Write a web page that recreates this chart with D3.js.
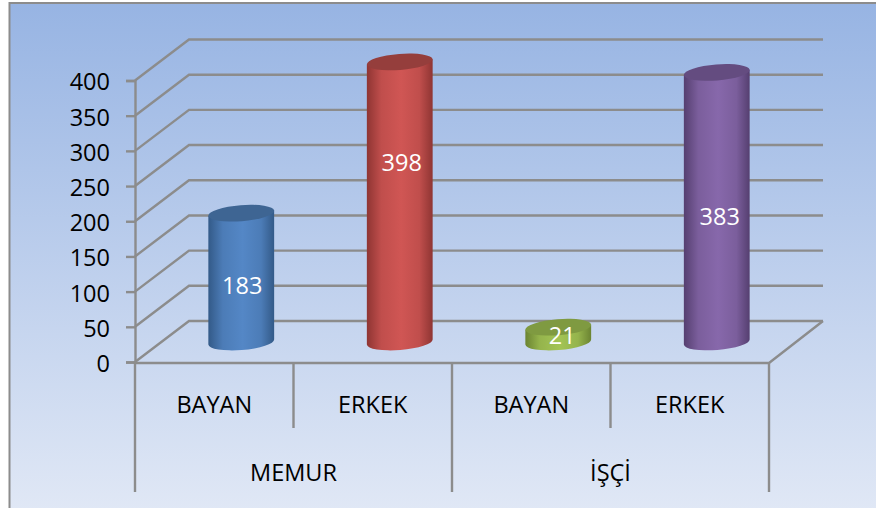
<!DOCTYPE html>
<html lang="en">
<head>
    <meta charset="UTF-8">
    <title>MEMUR / İŞÇİ</title>
    <script src="https://cdnjs.cloudflare.com/ajax/libs/d3/7.8.5/d3.min.js"></script>
    <style>
        html, body { margin: 0; padding: 0; background: #fff; overflow: hidden; }
        svg { display: block; }
        text { font-family: "Open Sans", sans-serif; }
    </style>
</head>
<body>
    <svg width="876" height="508"></svg>
    <script>
        "use strict";

        const categories = ["BAYAN", "ERKEK", "BAYAN", "ERKEK"];
        const values = [183, 398, 21, 383];
        const groups = ["MEMUR", "İŞÇİ"];
        const groupSizes = [2, 2];
        const yTicks = [0, 50, 100, 150, 200, 250, 300, 350, 400];
        const barColors = [
            { light: "#5487c6", dark: "#335a88", top: "#3e6593" },
            { light: "#d05654", dark: "#8f3533", top: "#953e3c" },
            { light: "#a3c455", dark: "#6b8432", top: "#7f9a41" },
            { light: "#8768ab", dark: "#553f70", top: "#644c80" },
        ];

        const svg = d3.select("svg");
        const defs = svg.append("defs");

        const bg = defs.append("linearGradient").attr("id", "bg")
            .attr("x1", 0).attr("y1", 0).attr("x2", 0).attr("y2", 1);
        bg.append("stop").attr("offset", "0%").attr("stop-color", "#97b4e3");
        bg.append("stop").attr("offset", "100%").attr("stop-color", "#e2e9f6");

        svg.append("rect")
            .attr("x", 9.5).attr("y", 3)
            .attr("width", 880).attr("height", 520)
            .attr("fill", "url(#bg)")
            .attr("stroke", "#8c8c8c")
            .attr("stroke-width", 2);

        // front plane of the 3d box, the back wall is shifted by depth
        const left = 135, right = 769;
        const depthX = 54, depthY = -41;
        const y = d3.scaleLinear().domain([0, 400]).range([362, 80.5]);
        const x = d3.scaleBand().domain(d3.range(categories.length)).range([left, right]);

        const lineColor = "#8c8c8c";
        const lineWidth = 2.4;
        const fontSize = 23.5;
        const grid = svg.append("g").attr("fill", "none").attr("stroke", lineColor).attr("stroke-width", lineWidth);

        grid.selectAll("path")
            .data(yTicks)
            .enter()
            .append("path")
            .attr("d", d => `M${left},${y(d)}L${left + depthX},${y(d) + depthY}L${right + depthX},${y(d) + depthY}`);

        // floor front and right edges
        grid.append("path")
            .attr("d", `M${left},${y(0) + 1}L${right},${y(0) + 1}L${right + depthX},${y(0) + depthY}`);

        // value axis
        const axis = svg.append("g")
            .attr("transform", `translate(${left},0)`)
            .call(d3.axisLeft(y).tickValues(yTicks).tickSize(9).tickPadding(16));
        axis.selectAll("path").attr("stroke", lineColor).attr("stroke-width", lineWidth);
        axis.selectAll("line").attr("stroke", lineColor).attr("stroke-width", lineWidth);
        axis.selectAll("text")
            .attr("font-size", fontSize)
            .attr("dy", "0.4em")
            .attr("fill", "#000")
            .style("font-family", "'Open Sans', sans-serif");

        // category axis, two levels
        const catLines = svg.append("g").attr("stroke", lineColor).attr("stroke-width", lineWidth);
        let idx = 0;
        const groupEdges = [0];
        groupSizes.forEach(n => { idx += n; groupEdges.push(idx); });
        const edgeX = i => i < categories.length ? x(i) : right;

        d3.range(categories.length + 1).forEach(i => {
            const isGroup = groupEdges.includes(i);
            catLines.append("line")
                .attr("x1", edgeX(i)).attr("x2", edgeX(i))
                .attr("y1", y(0) + 1).attr("y2", isGroup ? 492 : 428);
        });

        svg.append("g").selectAll("text")
            .data(categories)
            .enter()
            .append("text")
            .attr("x", (d, i) => x(i) + x.bandwidth() / 2)
            .attr("y", 412.5)
            .attr("text-anchor", "middle")
            .attr("font-size", fontSize)
            .attr("fill", "#000")
            .text(d => d);

        svg.append("g").selectAll("text")
            .data(groups)
            .enter()
            .append("text")
            .attr("x", (d, i) => (edgeX(groupEdges[i]) + edgeX(groupEdges[i + 1])) / 2)
            .attr("y", 480.5)
            .attr("text-anchor", "middle")
            .attr("font-size", fontSize)
            .attr("fill", "#000")
            .text(d => d);

        // cylinders, standing halfway into the depth
        barColors.forEach((c, i) => {
            const g = defs.append("linearGradient").attr("id", "bar" + i)
                .attr("x1", 0).attr("y1", 0).attr("x2", 1).attr("y2", 0);
            g.append("stop").attr("offset", "0%").attr("stop-color", c.dark);
            g.append("stop").attr("offset", "22%").attr("stop-color", d3.interpolateRgb(c.dark, c.light)(0.75));
            g.append("stop").attr("offset", "52%").attr("stop-color", c.light);
            g.append("stop").attr("offset", "80%").attr("stop-color", d3.interpolateRgb(c.dark, c.light)(0.75));
            g.append("stop").attr("offset", "100%").attr("stop-color", c.dark);
        });

        const rx = 33, ry = 8, tilt = -4.5;
        const sin = Math.sin(tilt * Math.PI / 180), cos = Math.cos(tilt * Math.PI / 180);
        const cx = i => x(i) + x.bandwidth() / 2 + depthX / 2;
        const level = v => y(v) + depthY / 2 + 0.5;

        // data labels sit where the original chart had dragged them
        const labelDx = [1, 2, 4, 3];
        const labelDy = [8.5, -38.5, 1.5, 10];

        const bars = svg.append("g").selectAll("g")
            .data(values)
            .enter()
            .append("g");

        bars.append("path")
            .attr("fill", (d, i) => `url(#bar${i})`)
            .attr("d", (d, i) => {
                const ex = rx * cos, ey = rx * sin;
                const x0 = cx(i) - ex, x1 = cx(i) + ex;
                const top = level(d), base = level(0);
                return `M${x0},${top - ey}L${x0},${base - ey}` +
                    `A${rx},${ry} ${tilt} 0 0 ${x1},${base + ey}` +
                    `L${x1},${top + ey}Z`;
            });

        bars.append("ellipse")
            .attr("rx", rx).attr("ry", ry)
            .attr("fill", (d, i) => barColors[i].top)
            .attr("transform", (d, i) => `translate(${cx(i)},${level(d)}) rotate(${tilt})`);

        bars.append("text")
            .attr("x", (d, i) => cx(i) + labelDx[i])
            .attr("y", (d, i) => (level(d) + level(0)) / 2 + labelDy[i] + 8)
            .attr("text-anchor", "middle")
            .attr("font-size", fontSize)
            .attr("fill", "#fff")
            .text(d => d);
    </script>
</body>
</html>
